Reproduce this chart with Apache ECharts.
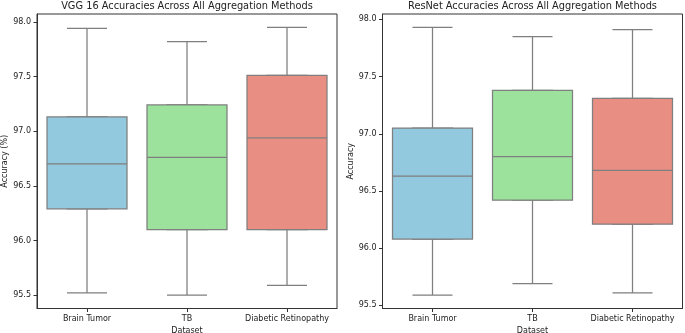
<!DOCTYPE html>
<html>
<head>
<meta charset="utf-8">
<script src="https://cdn.jsdelivr.net/npm/echarts@6/dist/echarts.min.js"></script>
<style>
html,body{margin:0;padding:0;background:#fff;}
#chart{width:685px;height:333px;}
</style>
</head>
<body>
<div id="chart"></div>
<script>
const categories = ['Brain Tumor', 'TB', 'Diabetic Retinopathy'];
// [min, Q1, median, Q3, max]
const vggBrainTumor = [95.52, 96.29, 96.70, 97.13, 97.94];
const vggTB = [95.50, 96.10, 96.76, 97.24, 97.82];
const vggDiabeticRetinopathy = [95.59, 96.10, 96.94, 97.51, 97.95];
const resnetBrainTumor = [95.59, 96.08, 96.63, 97.05, 97.93];
const resnetTB = [95.69, 96.42, 96.80, 97.38, 97.85];
const resnetDiabeticRetinopathy = [95.61, 96.21, 96.68, 97.31, 97.91];
const boxColors = ['#93C9DF', '#9CE29C', '#E98E83'];
const titles = ['VGG 16 Accuracies Across All Aggregation Methods', 'ResNet Accuracies Across All Aggregation Methods'];
const yNames = ['Accuracy (%)', 'Accuracy'];
const xName = 'Dataset';

const vgg = [vggBrainTumor, vggTB, vggDiabeticRetinopathy];
const resnet = [resnetBrainTumor, resnetTB, resnetDiabeticRetinopathy];

function extent(groups) {
  let lo = Infinity, hi = -Infinity;
  groups.forEach(g => { lo = Math.min(lo, g[0]); hi = Math.max(hi, g[4]); });
  const m = (hi - lo) * 0.05;
  return [lo - m, hi + m];
}
const FONT = 'DejaVu Sans';
const ink = '#222';
const lineGray = '#7f7f7f';
const gridBoxes = [
  {left: 37, top: 14, width: 300, height: 294.5},
  {left: 382.5, top: 14, width: 300, height: 294.5}
];
const panels = [vgg, resnet];

// grids 0,1 visible (whiskers layer); grids 2,3 overlay (boxes layer)
const grids = [0, 1, 0, 1].map((p, k) => Object.assign({
  show: k < 2, borderColor: '#333', borderWidth: 1, backgroundColor: 'transparent',
  outerBoundsMode: 'none', containLabel: false
}, gridBoxes[p]));

const xAxes = [0, 1, 2, 3].map(k => {
  const vis = k < 2;
  return {
    type: 'category',
    gridIndex: k,
    data: categories,
    show: vis,
    name: vis ? xName : '',
    nameLocation: 'middle',
    nameGap: 16,
    nameTextStyle: {fontFamily: FONT, fontSize: 8, color: ink},
    axisLine: {show: vis, lineStyle: {color: '#333', width: 1}},
    axisTick: {show: vis, alignWithLabel: true, length: 3.5, lineStyle: {color: '#333'}},
    axisLabel: {show: vis, interval: 0, fontFamily: FONT, fontSize: 8, color: ink, margin: 6},
    splitLine: {show: false}
  };
});
const yAxes = [0, 1, 2, 3].map(k => {
  const p = k % 2;
  const vis = k < 2;
  const ext = extent(panels[p]);
  return {
    type: 'value',
    gridIndex: k,
    min: ext[0],
    max: ext[1],
    splitNumber: 5,
    show: vis,
    name: vis ? yNames[p] : '',
    nameLocation: 'middle',
    nameRotate: 90,
    nameGap: 27,
    nameTextStyle: {fontFamily: FONT, fontSize: 8, color: ink},
    axisLine: {show: vis, lineStyle: {color: '#333', width: 1}},
    axisTick: {show: vis, length: 3.5, lineStyle: {color: '#333'}},
    axisLabel: {show: vis, fontFamily: FONT, fontSize: 8, color: ink, margin: 6,
      showMinLabel: false, showMaxLabel: false,
      formatter: v => v.toFixed(1)},
    splitLine: {show: false}
  };
});

const series = [];
panels.forEach((p, i) => {
  // whiskers with half-width caps
  series.push({
    type: 'boxplot', xAxisIndex: i, yAxisIndex: i, boxWidth: [40, 40], z: 2,
    data: p.map((d, j) => ({value: d, itemStyle: {color: boxColors[j], borderColor: lineGray, borderWidth: 1.25}}))
  });
  // boxes on top (whiskers collapsed onto the box edges)
  series.push({
    type: 'boxplot', xAxisIndex: i + 2, yAxisIndex: i + 2, boxWidth: [80, 80], z: 3,
    data: p.map((d, j) => ({value: [d[1], d[1], d[2], d[3], d[3]], itemStyle: {color: boxColors[j], borderColor: lineGray, borderWidth: 1.25}}))
  });
});

const option = {
  animation: false,
  backgroundColor: '#fff',
  textStyle: {fontFamily: FONT},
  title: titles.map((t, i) => ({
    text: t,
    left: gridBoxes[i].left + gridBoxes[i].width / 2,
    textAlign: 'center',
    top: 1,
    padding: 0,
    textStyle: {fontFamily: FONT, fontSize: 9.8, fontWeight: 'normal', color: ink}
  })),
  grid: grids,
  xAxis: xAxes,
  yAxis: yAxes,
  series: series
};
const chart = echarts.init(document.getElementById('chart'), null, {renderer: 'canvas'});
chart.setOption(option);
</script>
</body>
</html>
